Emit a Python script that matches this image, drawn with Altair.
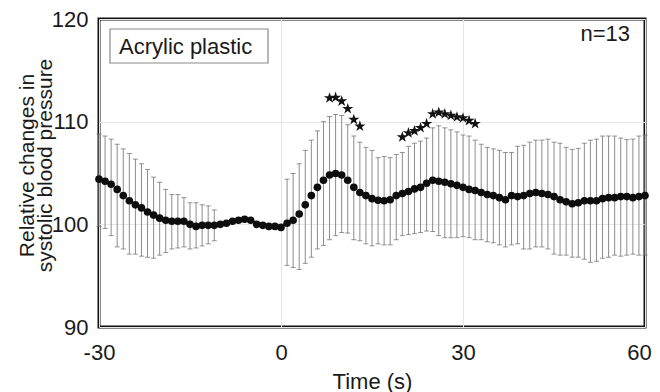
import altair as alt
import pandas as pd

# ---- data ----
time_s = list(range(-30, 61))
mean_sbp = [
    104.4, 104.2, 103.9, 103.4, 102.8, 102.3, 101.9, 101.6, 101.2, 100.9,
    100.6, 100.4, 100.3, 100.3, 100.3, 100.0, 99.8, 99.9, 99.9, 99.9,
    100.0, 100.1, 100.3, 100.4, 100.5, 100.4, 100.0, 99.9, 99.8, 99.8,
    99.7, 100.1, 100.4, 101.0, 101.9, 102.8, 103.6, 104.3, 104.8, 104.95,
    104.8, 104.3, 103.6, 103.1, 102.8, 102.5, 102.35, 102.3, 102.4, 102.8,
    103.0, 103.2, 103.45, 103.6, 104.0, 104.3, 104.2, 104.1, 103.95, 103.8,
    103.6, 103.4, 103.3, 103.1, 102.9, 102.8, 102.6, 102.4, 102.8, 102.7,
    102.8, 103.0, 103.1, 103.0, 102.9, 102.7, 102.4, 102.2, 102.0, 102.1,
    102.3, 102.3, 102.3, 102.5, 102.6, 102.6, 102.7, 102.7, 102.6, 102.7, 102.8,
]

bar_time = list(range(-30, -10)) + list(range(1, 61))
bar_upper = [
    108.8, 108.6, 108.3, 107.8, 107.35, 106.9, 106.35, 105.9, 105.35, 104.6,
    104.1, 103.4, 102.9, 102.9, 102.6, 102.1, 102.1, 101.9, 101.8, 101.4,
    104.4, 104.95, 105.9, 107.2, 108.2, 109.1, 110.0, 110.5, 110.7, 110.6,
    109.7, 108.6, 108.0, 107.5, 107.2, 106.5, 106.6, 106.5, 106.8, 107.0,
    107.6, 107.9, 108.1, 108.4, 109.4, 109.6, 109.4, 109.2, 109.0, 108.7,
    108.6, 108.2, 107.8, 107.5, 107.35, 107.2, 107.0, 107.0, 107.6, 107.7,
    108.0, 108.2, 108.2, 108.3, 108.0, 107.9, 107.5, 107.3, 107.4, 107.9,
    108.2, 108.3, 108.6, 108.6, 108.6, 108.4, 108.25, 108.3, 108.6, 108.7,
]
bar_lower = [
    99.8, 99.6, 98.9, 97.8, 97.6, 97.1, 97.1, 96.9, 96.8, 96.7,
    97.0, 97.25, 97.6, 97.7, 97.8, 97.6, 97.7, 97.9, 98.1, 98.4,
    96.0, 95.8, 95.6, 96.2, 96.8, 97.6, 97.95, 98.5, 98.9, 99.2,
    99.15, 98.5, 98.4, 98.1, 97.9, 98.1, 98.0, 98.0, 98.5, 98.9,
    99.0, 99.1, 99.2, 99.35, 99.3, 98.9, 98.7, 98.7, 98.7, 98.8,
    98.7, 98.5, 98.5, 98.3, 98.2, 98.0, 97.8, 98.0, 98.1, 97.6,
    97.6, 97.8, 97.8, 97.6, 97.1, 97.0, 97.0, 96.8, 96.8, 96.6,
    96.3, 96.4, 96.7, 96.8, 97.0, 96.9, 97.0, 97.1, 97.0, 97.0,
]

star_time = [8, 9, 10, 11, 12, 13, 20, 21, 22, 23, 24, 25, 26, 27, 28, 29, 30, 31, 32]
star_value = [112.3, 112.35, 112.0, 111.25, 110.2, 109.55,
              108.5, 108.9, 109.1, 109.4, 109.8, 110.75, 110.9, 110.75,
              110.6, 110.45, 110.35, 110.1, 109.8]

x_ticks = [-30, 0, 30, 60]
y_ticks = [90, 100, 110, 120]
panel_label = "Acrylic plastic"
n_label = "n=13"
x_title = "Time (s)"
y_title = ["Relative changes in", "systolic blood pressure"]

# ---- tables ----
mean_df = pd.DataFrame({"t": time_s, "v": mean_sbp})
bar_df = pd.DataFrame({"t": bar_time, "hi": bar_upper, "lo": bar_lower})
star_df = pd.DataFrame({"t": star_time, "v": star_value})
label_df = pd.DataFrame({"label": [panel_label]})
n_df = pd.DataFrame({"label": [n_label]})

FONT = "Liberation Sans"
STAR = ("M0,-1L0.2245,-0.309L0.951,-0.309L0.363,0.118L0.588,0.809L0,0.382"
        "L-0.588,0.809L-0.363,0.118L-0.951,-0.309L-0.2245,-0.309Z")

xs = alt.Scale(domain=[-30, 60], nice=False, zero=False)
ys = alt.Scale(domain=[90, 120], nice=False, zero=False)

x_axis = alt.Axis(values=x_ticks, title=x_title, labelPadding=15,
                  labelFlush=False, labelExpr="'' + datum.value",
                  labelOffset={"condition": {"test": "datum.value === 60", "value": -6},
                               "value": 0},
                  titleY=44, titleBaseline="top")
y_axis = alt.Axis(values=y_ticks, title=y_title, labelPadding=11,
                  labelFlush=False, labelExpr="'' + datum.value",
                  titleX=-62, titleY=146, titleBaseline="bottom",
                  titleAlign="center", titleAngle=-90, titleLineHeight=18,
                  titleFontSize=21)

bars = alt.Chart(bar_df).mark_rule(color="#8c8c8c", strokeWidth=1).encode(
    x=alt.X("t:Q", scale=xs, axis=x_axis),
    y=alt.Y("lo:Q", scale=ys, axis=y_axis),
    y2="hi:Q",
)
cap_hi = alt.Chart(bar_df).mark_tick(color="#6a6a6a", orient="horizontal",
                                    size=5, thickness=1).encode(
    x=alt.X("t:Q", scale=xs), y=alt.Y("hi:Q", scale=ys))
cap_lo = alt.Chart(bar_df).mark_tick(color="#6a6a6a", orient="horizontal",
                                    size=5, thickness=1).encode(
    x=alt.X("t:Q", scale=xs), y=alt.Y("lo:Q", scale=ys))

dots = alt.Chart(mean_df).mark_circle(color="#0d0d0d", opacity=1, size=58).encode(
    x=alt.X("t:Q", scale=xs), y=alt.Y("v:Q", scale=ys))

stars = alt.Chart(star_df).mark_point(shape=STAR, filled=True, color="#111111",
                                      opacity=1, size=140).encode(
    x=alt.X("t:Q", scale=xs), y=alt.Y("v:Q", scale=ys))

box = alt.Chart(label_df).mark_rect(fill="white", stroke="#8a8a8a",
                                    strokeWidth=1.2).encode(
    x=alt.value(11), x2=alt.value(169), y=alt.value(10), y2=alt.value(44))
box_text = alt.Chart(label_df).mark_text(font=FONT, fontSize=22, align="left",
                                         baseline="middle", color="#1a1a1a").encode(
    x=alt.value(20), y=alt.value(28), text="label:N")
n_text = alt.Chart(n_df).mark_text(font=FONT, fontSize=22, align="right",
                                   baseline="middle", color="#1a1a1a").encode(
    x=alt.value(531), y=alt.value(15), text="label:N")

chart = alt.layer(bars, cap_hi, cap_lo, dots, stars, box, box_text, n_text).properties(
    width=546, height=308,
    autosize=alt.AutoSizeParams(type="none"),
    padding={"left": 91, "top": 11, "right": 7, "bottom": 65},
    background="white",
).configure_view(
    stroke="#111111", strokeWidth=3,
).configure_axis(
    labelFont=FONT, labelFontSize=22, labelColor="#1a1a1a",
    titleFont=FONT, titleFontSize=22, titleFontWeight="normal", titleColor="#1a1a1a",
    grid=True, gridColor="#e6e6e6", gridWidth=1,
    domain=False, ticks=False, tickSize=0,
)

chart.save("out.html", embed_options={"renderer": "svg", "actions": False})
